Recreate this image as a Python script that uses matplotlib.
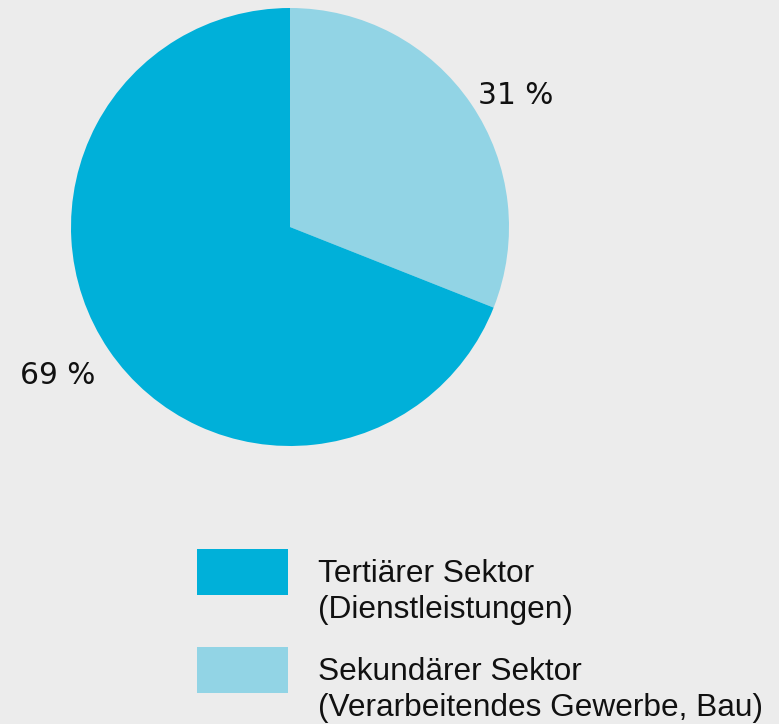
import matplotlib
matplotlib.use("Agg")
import matplotlib.pyplot as plt
from matplotlib.patches import Rectangle
import numpy as np

# data
sectors = ["Sekundärer Sektor\n(Verarbeitendes Gewerbe, Bau)",
           "Tertiärer Sektor\n(Dienstleistungen)"]
shares = [31, 69]
pct_labels = ["31 %", "69 %"]
colors = ["#92d4e5", "#00b0d9"]

W, H = 779, 724
bg = "#ececec"

fig = plt.figure(figsize=(W / 100, H / 100), dpi=100, facecolor=bg)

# pie axes: centre (290, 227) px, radius 219 px
cx, cy, r = 290, 227, 219
ax = fig.add_axes([(cx - r) / W, (H - cy - r) / H, 2 * r / W, 2 * r / H])
ax.set_facecolor(bg)
wedges, _ = ax.pie(shares, colors=colors, startangle=90, counterclock=False,
                   radius=1.0, wedgeprops=dict(linewidth=0))
ax.set_xlim(-1, 1)
ax.set_ylim(-1, 1)
ax.set_aspect("equal")
ax.axis("off")

# percentage labels outside the slices
label_pos = [(1.03, 0.60), (-1.06, -0.68)]
for txt, (x, y) in zip(pct_labels, label_pos):
    ax.text(x, y, txt, ha="center", va="center", fontsize=21.3,
            family="DejaVu Sans", color="#111111", clip_on=False)

# legend drawn by hand (tertiary first)
rows = [(sectors[1], colors[1], 549), (sectors[0], colors[0], 647)]
for label, col, top in rows:
    fig.add_artist(Rectangle((197 / W, (H - top - 46) / H), 91 / W, 46 / H,
                             transform=fig.transFigure, facecolor=col,
                             edgecolor="none"))
    fig.text(318 / W, (H - top - 10) / H, label, ha="left", va="top",
             fontsize=22.8, family="Liberation Sans", color="#111111",
             linespacing=1.24)

fig.savefig("out.png", dpi=100, facecolor=bg)
